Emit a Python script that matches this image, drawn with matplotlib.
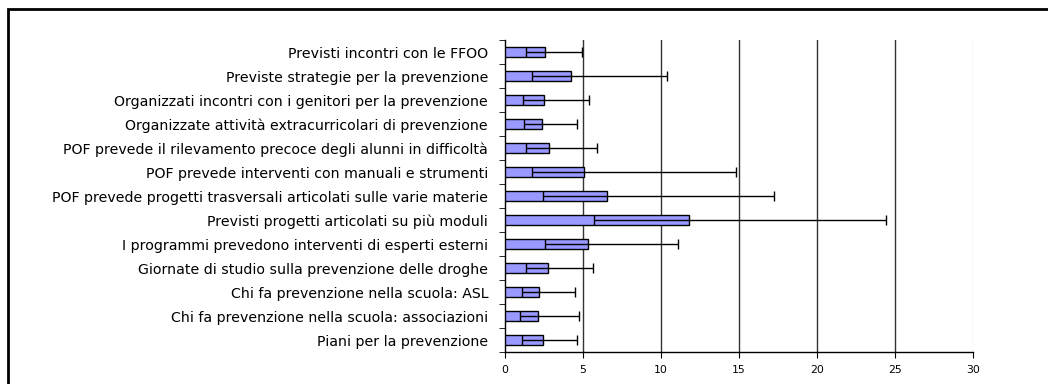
import numpy as np
import matplotlib.pyplot as plt
from matplotlib.patches import Rectangle

labels = [
    'Previsti incontri con le FFOO',
    'Previste strategie per la prevenzione',
    'Organizzati incontri con i genitori per la prevenzione',
    'Organizzate attività extracurricolari di prevenzione',
    'POF prevede il rilevamento precoce degli alunni in difficoltà',
    'POF prevede interventi con manuali e strumenti',
    'POF prevede progetti trasversali articolati sulle varie materie',
    'Previsti progetti articolati su più moduli',
    'I programmi prevedono interventi di esperti esterni',
    'Giornate di studio sulla prevenzione delle droghe',
    'Chi fa prevenzione nella scuola: ASL',
    'Chi fa prevenzione nella scuola: associazioni',
    'Piani per la prevenzione',
]
odds = [2.56, 4.25, 2.50, 2.39, 2.86, 5.10, 6.53, 11.83, 5.34, 2.80, 2.22, 2.16, 2.46]
ci_low = [1.37, 1.75, 1.17, 1.26, 1.37, 1.75, 2.43, 5.74, 2.56, 1.37, 1.09, 1.00, 1.09]
ci_high = [4.98, 10.40, 5.42, 4.66, 5.92, 14.80, 17.27, 24.43, 11.10, 5.66, 4.48, 4.74, 4.66]

fig = plt.figure(figsize=(10.48, 3.84), dpi=100)
ax = fig.add_axes([0.4816, 0.0833, 0.4468, 0.8125])

n = len(labels)
ypos = np.arange(n)[::-1]
odds = np.array(odds)
xerr = [odds - np.array(ci_low), np.array(ci_high) - odds]

ax.barh(ypos, odds, height=0.45, color='#9999ff', edgecolor='black', linewidth=1, zorder=3)
ax.errorbar(odds, ypos, xerr=xerr, fmt='none', ecolor='black', elinewidth=1,
            capsize=3.6, capthick=1, zorder=4)

ax.set_xlim(0, 30)
ax.set_ylim(-0.5, n - 0.5)
ax.set_xticks(range(0, 31, 5))
ax.tick_params(axis='x', labelsize=7.8, length=4, direction='out', pad=5)

ax.set_yticks(ypos)
ax.set_yticklabels(labels, fontsize=10.2)
ax.set_yticks(np.arange(-0.5, n, 1), minor=True)
ax.tick_params(axis='y', which='major', length=0, pad=12)
ax.tick_params(axis='y', which='minor', length=4, direction='out')

for x in range(5, 30, 5):
    ax.axvline(x, color='#333333', linewidth=1, zorder=1)
ax.axvline(30, color='#dddddd', linewidth=1, zorder=1)

for s in ['top', 'right']:
    ax.spines[s].set_visible(False)
ax.spines['left'].set_linewidth(1)
ax.spines['bottom'].set_linewidth(1)

# outer frame of the chart
fig.patches.append(Rectangle((8 / 1048, -0.1), 1.2, (384 - 9) / 384 + 0.1,
                             transform=fig.transFigure, fill=False,
                             edgecolor='black', linewidth=2))

fig.savefig('out.png', dpi=100)
